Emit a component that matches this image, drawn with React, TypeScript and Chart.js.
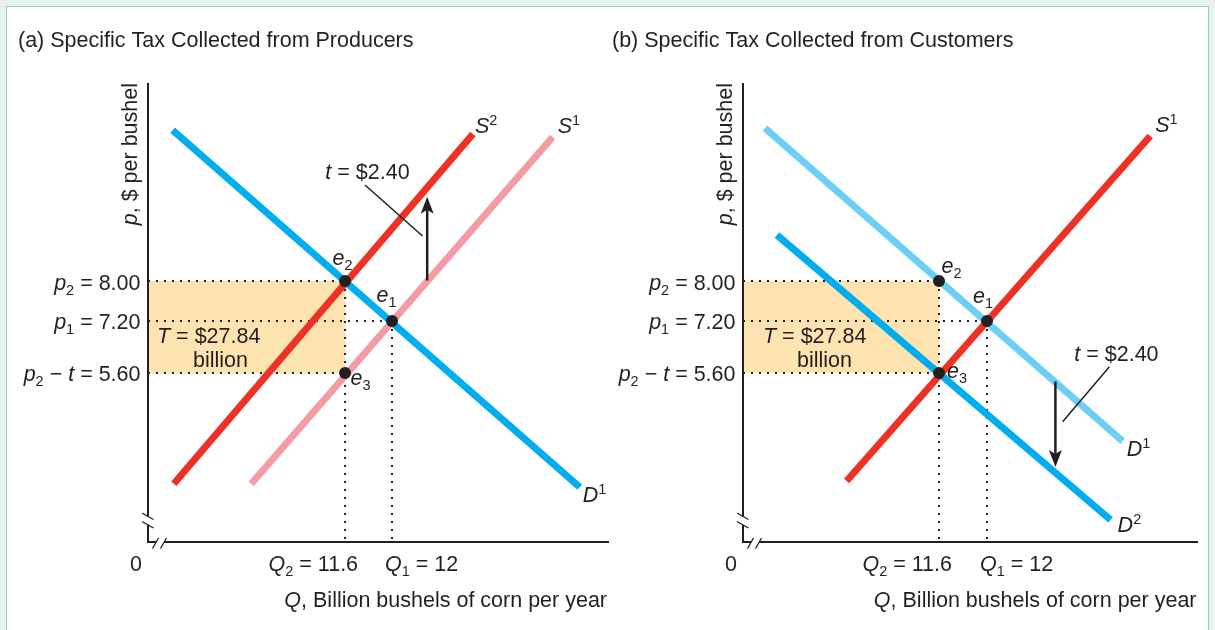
import React, { useEffect, useRef } from 'react';
import { Chart, registerables, LinearScale } from 'chart.js';

// ---------------- data ----------------
const priceTicks = [8.0, 7.2, 5.6]; // p2, p1, p2 − t   ($ per bushel)
const quantityTicks = [11.6, 12]; // Q2, Q1 (billion bushels)
const equilibriumQ = [11.6, 12, 11.6]; // e2, e1, e3
const equilibriumP = [8.0, 7.2, 5.6];
const equilibriumNames = ['2', '1', '3'];
const specificTax = 2.4;
const taxRevenue = 27.84;
const originLabel = '0';
const priceRange = [2, 12];

// Panel (a): tax collected from producers
const aQuantityRange = [9.92, 13.85];
const aDemand1Q = [10.13, 13.6];
const aDemand1P = [11.05, 3.17];
const aSupply1Q = [10.8, 13.37];
const aSupply1P = [3.24, 10.91];
const aSupply2Q = [10.14, 12.69];
const aSupply2P = [3.24, 10.97];
const aArrowQ = [12.3, 12.3];
const aArrowP = [8.01, 9.7];
const aLeaderQ = [11.77, 12.26];
const aLeaderP = [9.94, 8.91];

// Panel (b): tax collected from customers
const bQuantityRange = [9.967, 13.758];
const bDemand1Q = [10.15, 13.13];
const bDemand1P = [11.09, 4.15];
const bDemand2Q = [10.25, 13.03];
const bDemand2P = [8.93, 2.47];
const bSupply1Q = [10.83, 13.36];
const bSupply1P = [3.3, 10.93];
const bArrowQ = [12.57, 12.57];
const bArrowP = [5.42, 3.6];
const bLeaderQ = [13.02, 12.63];
const bLeaderP = [5.79, 4.56];

// ---------------- styles ----------------
const INK = '#231f20';
const BLUE = '#00aeef';
const LIGHT_BLUE = '#6dcff6';
const RED = '#ee3124';
const PINK = '#f49ba6';
const SHADE = '#fde3b0';
const FONT = '"Liberation Sans", Arial, Helvetica, sans-serif';
const BASE = 21.5;
const SMALL = 14.5;

// The price axis of the original is drawn "not to scale": a piecewise linear axis.
const PRICE_AXIS_KNOTS = [2, 5.6, 7.2, 8, 12];
const PRICE_AXIS_FRACTIONS = [0, 0.3682, 0.4815, 0.5686, 1];

function interp(v: number, xs: number[], ys: number[]) {
  let i = 1;
  while (i < xs.length - 1 && v > xs[i]) i++;
  return ys[i - 1] + ((v - xs[i - 1]) * (ys[i] - ys[i - 1])) / (xs[i] - xs[i - 1]);
}

class NotToScaleAxis extends LinearScale {
  static id = 'notToScale';
  static defaults = LinearScale.defaults;
  getPixelForValue(value: any) {
    if (value === null || value === undefined || isNaN(value)) return NaN;
    return this.getPixelForDecimal(interp(value, PRICE_AXIS_KNOTS, PRICE_AXIS_FRACTIONS));
  }
  getValueForPixel(pixel: number) {
    return interp(this.getDecimalForPixel(pixel), PRICE_AXIS_FRACTIONS, PRICE_AXIS_KNOTS);
  }
}

Chart.register(...registerables, NotToScaleAxis as any);

// ---------------- rich text ----------------
type Seg = { t: string; i?: boolean; sub?: boolean; sup?: boolean };

function fontFor(s: Seg) {
  const size = s.sub || s.sup ? SMALL : BASE;
  return `${s.i ? 'italic ' : ''}${size}px ${FONT}`;
}

function drawRich(ctx: CanvasRenderingContext2D, segs: Seg[], x: number, y: number, align: 'left' | 'right' | 'center' = 'left') {
  ctx.save();
  ctx.fillStyle = INK;
  ctx.textBaseline = 'alphabetic';
  ctx.textAlign = 'left';
  let w = 0;
  for (const s of segs) {
    ctx.font = fontFor(s);
    w += ctx.measureText(s.t).width;
  }
  let cx = align === 'left' ? x : align === 'right' ? x - w : x - w / 2;
  for (const s of segs) {
    ctx.font = fontFor(s);
    const dy = s.sub ? 5 : s.sup ? -8 : 0;
    ctx.fillText(s.t, cx, y + dy);
    cx += ctx.measureText(s.t).width;
  }
  ctx.restore();
}

function drawArrow(ctx: CanvasRenderingContext2D, x0: number, y0: number, x1: number, y1: number) {
  const ang = Math.atan2(y1 - y0, x1 - x0);
  const L = 17;
  const W = 6.5;
  ctx.save();
  ctx.strokeStyle = INK;
  ctx.fillStyle = INK;
  ctx.lineWidth = 2.5;
  ctx.beginPath();
  ctx.moveTo(x0, y0);
  ctx.lineTo(x1 - Math.cos(ang) * (L - 4), y1 - Math.sin(ang) * (L - 4));
  ctx.stroke();
  ctx.translate(x1, y1);
  ctx.rotate(ang);
  ctx.beginPath();
  ctx.moveTo(0, 0);
  ctx.lineTo(-L, -W);
  ctx.lineTo(-L + 4, 0);
  ctx.lineTo(-L, W);
  ctx.closePath();
  ctx.fill();
  ctx.restore();
}

// ---------------- panel specs ----------------
interface CurveSpec {
  q: number[];
  p: number[];
  color: string;
  name: Seg[];
  dx: number;
  dy: number;
}

interface PanelSpec {
  left: number;
  width: number;
  title: string;
  titleX: number;
  padding: { left: number; right: number; top: number; bottom: number };
  qRange: number[];
  curves: CurveSpec[];
  arrowQ: number[];
  arrowP: number[];
  leaderQ: number[];
  leaderP: number[];
  taxOffset: [number, number];
  revOffset: [number, number];
  billionOffset: [number, number];
  eOffsets: [number, number][];
  xTitleInset: number;
}

const sup = (letter: string, n: string): Seg[] => [{ t: letter, i: true }, { t: n, sup: true }];

const panelA: PanelSpec = {
  left: 0,
  width: 615,
  title: '(a) Specific Tax Collected from Producers',
  titleX: 18,
  padding: { left: 148, right: 5, top: 83, bottom: 88 },
  qRange: aQuantityRange,
  curves: [
    { q: aDemand1Q, p: aDemand1P, color: BLUE, name: sup('D', '1'), dx: 3, dy: 15 },
    { q: aSupply1Q, p: aSupply1P, color: PINK, name: sup('S', '1'), dx: 5, dy: -4 },
    { q: aSupply2Q, p: aSupply2P, color: RED, name: sup('S', '2'), dx: 2, dy: -1 },
  ],
  arrowQ: aArrowQ,
  arrowP: aArrowP,
  leaderQ: aLeaderQ,
  leaderP: aLeaderP,
  taxOffset: [2.5, -6],
  revOffset: [9, 22],
  billionOffset: [45, 46],
  eOffsets: [
    [-12.5, -16],
    [-15.5, -19],
    [5.5, 12],
  ],
  xTitleInset: 2,
};

const panelB: PanelSpec = {
  left: 600,
  width: 615,
  title: '(b) Specific Tax Collected from Customers',
  titleX: 12,
  padding: { left: 143, right: 17, top: 83, bottom: 88 },
  qRange: bQuantityRange,
  curves: [
    { q: bDemand1Q, p: bDemand1P, color: LIGHT_BLUE, name: sup('D', '1'), dx: 4, dy: 15 },
    { q: bDemand2Q, p: bDemand2P, color: BLUE, name: sup('D', '2'), dx: 7, dy: 12 },
    { q: bSupply1Q, p: bSupply1P, color: RED, name: sup('S', '1'), dx: 5, dy: -4 },
  ],
  arrowQ: bArrowQ,
  arrowP: bArrowP,
  leaderQ: bLeaderQ,
  leaderP: bLeaderP,
  taxOffset: [7, -6],
  revOffset: [20, 22],
  billionOffset: [54, 46],
  eOffsets: [
    [2.5, -8.5],
    [-14, -18],
    [8, 5],
  ],
  xTitleInset: 1.5,
};

const pts = (q: number[], p: number[]) => q.map((x, i) => ({ x, y: p[i] }));

function decorPlugin(spec: PanelSpec) {
  return {
    id: 'decor',
    afterDatasetsDraw(chart: any) {
      const ctx: CanvasRenderingContext2D = chart.ctx;
      const { left, right, top, bottom } = chart.chartArea;
      const xs = chart.scales.x;
      const ys = chart.scales.y;
      const X = (v: number) => xs.getPixelForValue(v);
      const Y = (v: number) => ys.getPixelForValue(v);

      // axes with break marks
      ctx.save();
      ctx.strokeStyle = INK;
      ctx.lineWidth = 2;
      ctx.lineCap = 'butt';
      ctx.beginPath();
      ctx.moveTo(left, top);
      ctx.lineTo(left, bottom - 25.5);
      ctx.moveTo(left, bottom - 17);
      ctx.lineTo(left, bottom);
      ctx.lineTo(left + 8, bottom);
      ctx.moveTo(left + 16, bottom);
      ctx.lineTo(right, bottom);
      ctx.stroke();
      ctx.lineWidth = 1.3;
      ctx.beginPath();
      ctx.moveTo(left - 6, bottom - 29);
      ctx.lineTo(left + 5.5, bottom - 22.5);
      ctx.moveTo(left - 6, bottom - 20.5);
      ctx.lineTo(left + 5.5, bottom - 14);
      ctx.moveTo(left + 4.5, bottom + 6.5);
      ctx.lineTo(left + 10.5, bottom - 4);
      ctx.moveTo(left + 12.5, bottom + 6.5);
      ctx.lineTo(left + 18.5, bottom - 4);
      ctx.stroke();
      ctx.restore();

      // tax arrow
      drawArrow(ctx, X(spec.arrowQ[0]), Y(spec.arrowP[0]), X(spec.arrowQ[1]), Y(spec.arrowP[1]));

      // title
      drawRich(ctx, [{ t: spec.title }], spec.titleX, 47);

      // axis titles
      ctx.save();
      ctx.translate(left - 11, top);
      ctx.rotate(-Math.PI / 2);
      drawRich(ctx, [{ t: 'p', i: true }, { t: ', $ per bushel' }], 0, 0, 'right');
      ctx.restore();
      drawRich(ctx, [{ t: 'Q', i: true }, { t: ', Billion bushels of corn per year' }], right - spec.xTitleInset, bottom + 65, 'right');

      // price tick labels
      const priceLabels: Seg[][] = [
        [{ t: 'p', i: true }, { t: '2', sub: true }, { t: ` = ${priceTicks[0].toFixed(2)}` }],
        [{ t: 'p', i: true }, { t: '1', sub: true }, { t: ` = ${priceTicks[1].toFixed(2)}` }],
        [{ t: 'p', i: true }, { t: '2', sub: true }, { t: ' − ' }, { t: 't', i: true }, { t: ` = ${priceTicks[2].toFixed(2)}` }],
      ];
      priceTicks.forEach((v, k) => drawRich(ctx, priceLabels[k], left - 7.5, Y(v) + 8.5, 'right'));

      // quantity tick labels
      drawRich(ctx, [{ t: originLabel }], left - 12, bottom + 29, 'center');
      drawRich(ctx, [{ t: 'Q', i: true }, { t: '2', sub: true }, { t: ` = ${quantityTicks[0]}` }], X(quantityTicks[0]) + 13, bottom + 29, 'right');
      drawRich(ctx, [{ t: 'Q', i: true }, { t: '1', sub: true }, { t: ` = ${quantityTicks[1]}` }], X(quantityTicks[1]) - 7, bottom + 29, 'left');

      // equilibrium labels
      equilibriumQ.forEach((q, k) => {
        const [dx, dy] = spec.eOffsets[k];
        drawRich(ctx, [{ t: 'e', i: true }, { t: equilibriumNames[k], sub: true }], X(q) + dx, Y(equilibriumP[k]) + dy);
      });

      // curve names
      spec.curves.forEach((c) => {
        const n = c.q.length - 1;
        drawRich(ctx, c.name, X(c.q[n]) + c.dx, Y(c.p[n]) + c.dy);
      });

      // tax label
      drawRich(
        ctx,
        [{ t: 't', i: true }, { t: ` = $${specificTax.toFixed(2)}` }],
        X(spec.leaderQ[0]) + spec.taxOffset[0],
        Y(spec.leaderP[0]) + spec.taxOffset[1],
        'center'
      );

      // tax revenue label
      drawRich(ctx, [{ t: 'T', i: true }, { t: ` = $${taxRevenue.toFixed(2)}` }], left + spec.revOffset[0], Y(priceTicks[1]) + spec.revOffset[1]);
      drawRich(ctx, [{ t: 'billion' }], left + spec.billionOffset[0], Y(priceTicks[1]) + spec.billionOffset[1]);
    },
  };
}

function buildConfig(spec: PanelSpec): any {
  const qMin = spec.qRange[0];
  const pMin = priceRange[0];
  const guides: { x: number; y: number }[][] = [];
  equilibriumQ.forEach((q, k) => {
    guides.push([
      { x: qMin, y: equilibriumP[k] },
      { x: q, y: equilibriumP[k] },
    ]);
  });
  quantityTicks.forEach((q) => {
    const top = Math.max(...equilibriumP.filter((_, k) => equilibriumQ[k] === q));
    guides.push([
      { x: q, y: top },
      { x: q, y: pMin },
    ]);
  });

  const datasets: any[] = [
    {
      data: [
        { x: qMin, y: priceTicks[0] },
        { x: quantityTicks[0], y: priceTicks[0] },
      ],
      fill: { value: priceTicks[2] },
      backgroundColor: SHADE,
      borderColor: 'transparent',
      borderWidth: 0,
      order: 30,
    },
    ...guides.map((g) => ({
      data: g,
      borderColor: INK,
      borderWidth: 2,
      borderDash: [2, 6],
      borderCapStyle: 'butt',
      fill: false,
      order: 20,
    })),
    ...spec.curves.map((c, k) => ({
      data: pts(c.q, c.p),
      borderColor: c.color,
      borderWidth: 7,
      borderCapStyle: 'butt',
      fill: false,
      order: 10 - k,
    })),
    {
      data: pts(spec.leaderQ, spec.leaderP),
      borderColor: INK,
      borderWidth: 1.5,
      fill: false,
      order: 3,
    },
    {
      data: pts(equilibriumQ, equilibriumP),
      showLine: false,
      pointRadius: 6,
      pointBackgroundColor: INK,
      pointBorderWidth: 0,
      order: 1,
    },
  ];

  return {
    type: 'line',
    data: { datasets },
    options: {
      animation: false,
      responsive: false,
      devicePixelRatio: 1,
      events: [],
      layout: { padding: spec.padding },
      elements: { point: { radius: 0, hoverRadius: 0 }, line: { tension: 0 } },
      plugins: {
        legend: { display: false },
        tooltip: { enabled: false },
        title: { display: false },
      },
      scales: {
        x: { type: 'linear', min: spec.qRange[0], max: spec.qRange[1], display: false },
        y: { type: 'notToScale', min: priceRange[0], max: priceRange[1], display: false },
      },
    },
    plugins: [decorPlugin(spec)],
  };
}

function Panel({ spec }: { spec: PanelSpec }) {
  const ref = useRef<HTMLCanvasElement>(null);
  useEffect(() => {
    if (!ref.current) return;
    const chart = new Chart(ref.current, buildConfig(spec));
    return () => chart.destroy();
  }, [spec]);
  return (
    <canvas
      ref={ref}
      width={spec.width}
      height={630}
      style={{ position: 'absolute', left: spec.left, top: 0, width: spec.width, height: 630 }}
    />
  );
}

export default function App() {
  return (
    <div
      style={{
        position: 'fixed',
        left: 0,
        top: 0,
        width: 1215,
        height: 630,
        background: '#e6f2ec',
        overflow: 'hidden',
      }}
    >
      <div
        style={{
          position: 'absolute',
          left: 6,
          top: 6,
          width: 1201,
          height: 660,
          background: '#ffffff',
          border: '1.5px solid #8fd1ad',
        }}
      />
      <Panel spec={panelA} />
      <Panel spec={panelB} />
    </div>
  );
}
